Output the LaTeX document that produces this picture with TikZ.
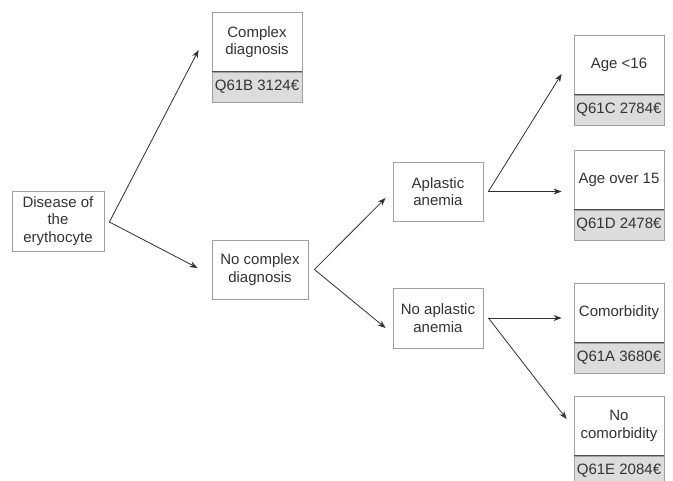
\documentclass[tikz,border=0pt]{standalone}
\usepackage{fontspec}
\setmainfont{Liberation Sans}
\usetikzlibrary{arrows.meta}
\definecolor{txt}{HTML}{333333}
\definecolor{bord}{HTML}{A0A0A0}
\definecolor{codefill}{HTML}{DCDCDC}
\definecolor{divc}{HTML}{505050}
\definecolor{arr}{HTML}{303030}
\begin{document}
\begin{tikzpicture}[x=1pt,y=-1pt,
  box/.style={draw=bord, line width=0.8pt, fill=white, text=txt,
    font=\fontsize{15}{17.5}\selectfont, align=center, inner sep=0pt,
    minimum width=90pt, minimum height=60pt},
  codebox/.style={box, fill=codefill, minimum height=30pt},
  divider/.style={draw=divc, line width=0.9pt},
  conn/.style={draw=arr, line width=0.8pt, -{Stealth[length=8pt,width=6pt]}}]
\useasboundingbox (0,0) rectangle (673,481);
% boxes
\node[box, minimum width=92pt] (dis) at (58,221) {Disease of\\the\\erythocyte};
\node[box] (cx) at (257,42) {Complex\\diagnosis};
\node[codebox] (cxc) at (257,87) {Q61B 3124€};
\node[box, minimum width=96pt, minimum height=59pt] (nc) at (260,269.5) {No complex\\diagnosis};
\node[box, minimum height=59pt] (ap) at (438,191.5) {Aplastic\\anemia};
\node[box] (nap) at (438,318) {No aplastic\\anemia};
\node[box] (a16) at (619,65) {Age <16};
\node[codebox] (a16c) at (619,110) {Q61C 2784€};
\node[box] (a15) at (619,180) {Age over 15};
\node[codebox] (a15c) at (619,225) {Q61D 2478€};
\node[box] (cm) at (619,313) {Comorbidity};
\node[codebox] (cmc) at (619,358) {Q61A 3680€};
\node[box] (ncm) at (619,426) {No\\comorbidity};
\node[codebox] (ncmc) at (619,471) {Q61E 2084€};
% dividers
\foreach \c in {cxc,a16c,a15c,cmc,ncmc}
  \draw[divider] (\c.north west) -- (\c.north east);
% connector points
\coordinate (disout) at ([xshift=5pt,yshift=-1pt]dis.east);
\coordinate (cxin) at ([xshift=-13pt,yshift=-8pt]cx.west);
\coordinate (ncin) at ([xshift=-14pt,yshift=1.5pt]nc.west);
\coordinate (ncout) at ([xshift=6pt]nc.east);
\coordinate (apin) at ([xshift=-7pt,yshift=-6.5pt]ap.west);
\coordinate (napin) at ([xshift=-7pt,yshift=-10pt]nap.west);
\coordinate (apout) at ([xshift=5pt]ap.east);
\coordinate (a16in) at ([xshift=-12pt,yshift=-9pt]a16.west);
\coordinate (a15in) at ([xshift=-12pt,yshift=-11.5pt]a15.west);
\coordinate (napout) at ([xshift=5pt]nap.east);
\coordinate (cmin) at ([xshift=-12pt,yshift=-5pt]cm.west);
\coordinate (ncmin) at ([xshift=-7pt,yshift=7pt]ncm.west);
% connectors
\draw[conn] (disout) -- (cxin);
\draw[conn] (disout) -- (ncin);
\draw[conn] (ncout) -- (apin);
\draw[conn] (ncout) -- (napin);
\draw[conn] (apout) -- (a16in);
\draw[conn] (apout) -- (a15in);
\draw[conn] (napout) -- (cmin);
\draw[conn] (napout) -- (ncmin);
\end{tikzpicture}
\end{document}
